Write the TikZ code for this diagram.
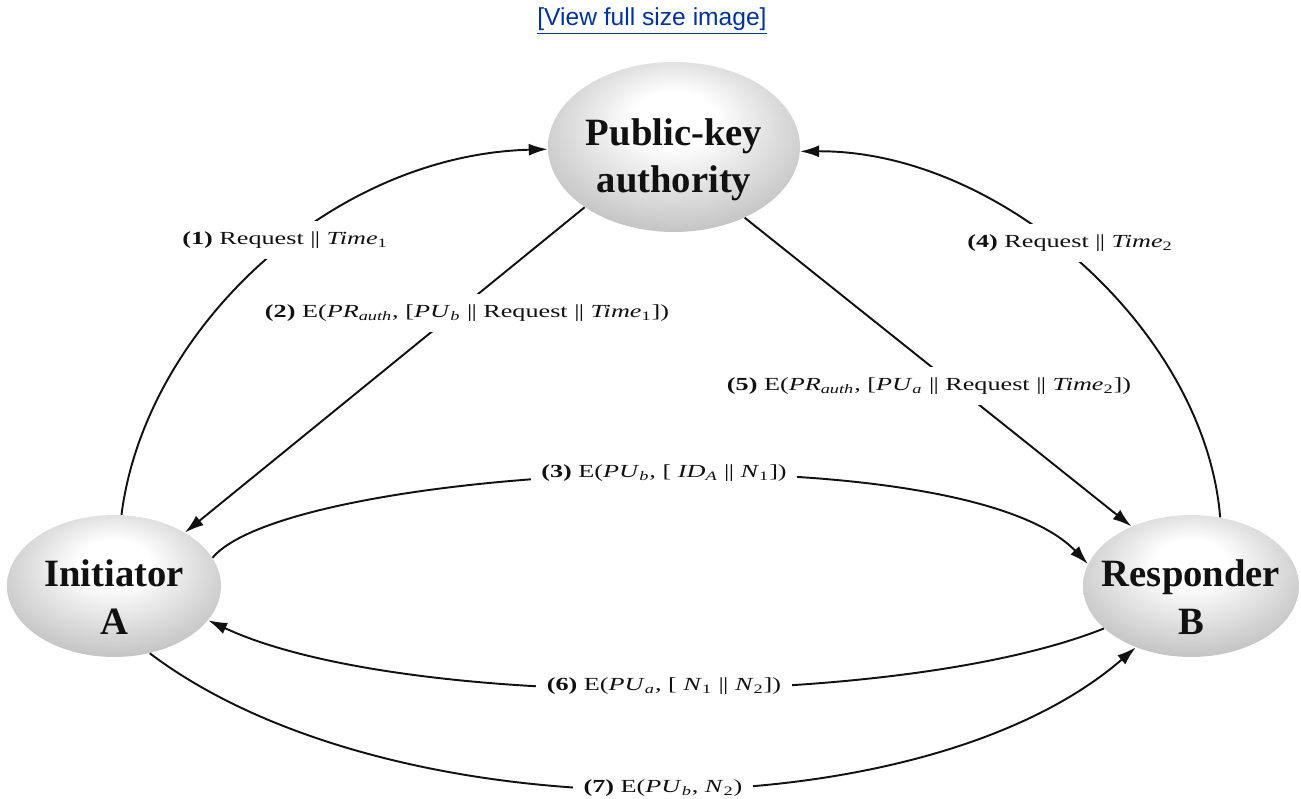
\documentclass[tikz,border=0pt]{standalone}
\usepackage{fontspec}
\setmainfont{Liberation Serif}
\newfontfamily\lblfont[FakeStretch=1.42]{Liberation Serif}
\newfontfamily\linkfont{Liberation Sans}
\usetikzlibrary{arrows.meta,shapes.geometric}
\definecolor{ink}{HTML}{111111}
\definecolor{link}{HTML}{0033A0}
\pgfdeclareradialshading{orb}{\pgfpoint{0bp}{10bp}}{color(0bp)=(white); color(8bp)=(white); color(30bp)=(black!24); color(50bp)=(black!58)}
\newcommand{\pipes}{\textbar\kern-0.4pt\textbar}
\tikzset{
  party/.style={ellipse, shade, shading=orb, inner sep=0pt, inner xsep=-10pt,
                font=\fontsize{22}{27}\selectfont\bfseries, align=center, text=ink},
  msg/.style={fill=white, inner xsep=6pt, inner ysep=6pt,
              font=\lblfont\fontsize{10.5}{12}\selectfont, text=ink},
  ch/.style={-{Latex[length=3.8mm,width=2.4mm]}, line width=1.1pt, draw=ink},
}

\begin{document}
\begin{tikzpicture}[x=0.02cm, y=-0.02cm]
  \useasboundingbox (0,0) rectangle (1301,798);
  \node[font=\linkfont\fontsize{14}{16}\selectfont, text=link] (view) at (652,21) {\underline{[View full size image]}};
  \node[party, minimum width=5.04cm, minimum height=3.4cm] (PKA) at (674,147) {\rule{0pt}{30pt}Public-key\\authority};
  \node[party, minimum width=4.28cm, minimum height=2.84cm] (A) at (114,586) {\rule{0pt}{28pt}Initiator\\A};
  \node[party, minimum width=4.32cm, minimum height=2.84cm] (B) at (1191,586) {\rule{0pt}{28pt}Responder\\B};
  \draw[ch] (A.84) .. controls (145,330) and (330,155) .. (PKA.181);
  \draw[ch] (PKA.214) -- (A.37);
  \draw[ch] (A.16) .. controls (290,465) and (960,430) .. (B.168);
  \draw[ch] (B.67) .. controls (1205,330) and (1000,150) .. (PKA.358);
  \draw[ch] (PKA.315) -- (B.135);
  \draw[ch] (B.206) .. controls (900,710) and (400,710) .. (A.340);
  \draw[ch] (A.298) .. controls (390,835) and (920,835) .. (B.228);
  \node[msg] (m1) at (285,240) {\textbf{(1)} Request \pipes{} \textit{Time}\textsubscript{1}};
  \node[msg] (m2) at (467,313) {\textbf{(2)} E(\textit{PR}\textsubscript{\textit{auth}}, [\textit{PU}\textsubscript{\textit{b}} \pipes{} Request \pipes{} \textit{Time}\textsubscript{1}])};
  \node[msg] (m3) at (664,473) {\textbf{(3)} E(\textit{PU}\textsubscript{\textit{b}}, [ \textit{ID}\textsubscript{\textit{A}} \pipes{} \textit{N}\textsubscript{1}])};
  \node[msg] (m4) at (1070,243) {\textbf{(4)} Request \pipes{} \textit{Time}\textsubscript{2}};
  \node[msg] (m5) at (929,386) {\textbf{(5)} E(\textit{PR}\textsubscript{\textit{auth}}, [\textit{PU}\textsubscript{\textit{a}} \pipes{} Request \pipes{} \textit{Time}\textsubscript{2}])};
  \node[msg] (m6) at (664,686) {\textbf{(6)} E(\textit{PU}\textsubscript{\textit{a}}, [ \textit{N}\textsubscript{1} \pipes{} \textit{N}\textsubscript{2}])};
  \node[msg] (m7) at (663,788) {\textbf{(7)} E(\textit{PU}\textsubscript{\textit{b}}, \textit{N}\textsubscript{2})};
\end{tikzpicture}
\end{document}
